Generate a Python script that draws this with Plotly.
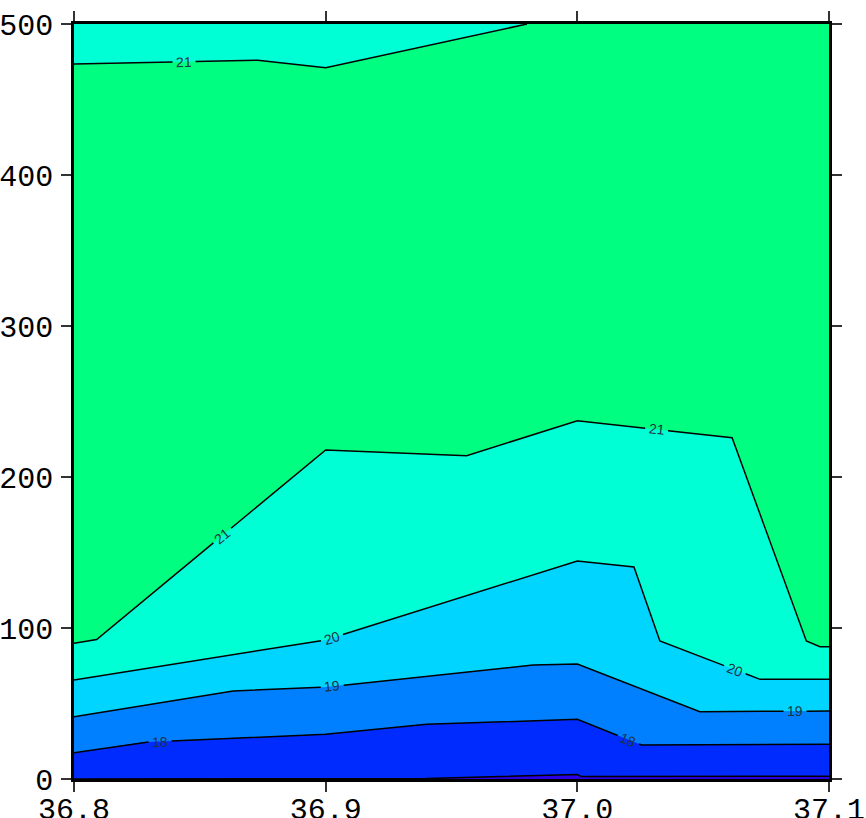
import numpy as np
import plotly.graph_objects as go

# ---- data (longitude, depth in m) ----
c21_top_lon = [36.8, 36.873, 36.9, 36.98]
c21_top_dep = [473.5, 476.0, 471.0, 500.0]

c21_lon = [36.8, 36.809, 36.9, 36.956, 37.0, 37.0615, 37.091, 37.0964, 37.1]
c21_dep = [89.9, 92.4, 217.9, 214.1, 237.3, 226.0, 91.4, 87.6, 87.6]

c20_lon = [36.8, 36.9, 37.0, 37.0225, 37.0328, 37.0726, 37.1]
c20_dep = [65.6, 92.1, 144.4, 140.4, 91.4, 66.0, 66.0]

c19_lon = [36.8, 36.8632, 36.9, 36.9824, 37.0, 37.0487, 37.1]
c19_dep = [41.3, 58.3, 60.9, 75.5, 76.2, 44.6, 45.0]

c18_lon = [36.8, 36.8274, 36.9, 36.9401, 36.9824, 37.0, 37.0256, 37.1]
c18_dep = [17.4, 24.3, 29.6, 36.2, 38.6, 39.5, 22.5, 23.0]

c17_lon = [36.8, 36.94, 37.0, 37.0016, 37.1]
c17_dep = [0.0, 0.3, 3.0, 1.6, 1.9]

# contour labels: (line, longitude of label centre, text)
labels = [
    ("c21_top", 36.8437, "21"),
    ("c21", 36.8589, "21"),
    ("c21", 37.0315, "21"),
    ("c20", 36.9025, "20"),
    ("c20", 37.0626, "20"),
    ("c19", 36.9026, "19"),
    ("c19", 37.0865, "19"),
    ("c18", 36.8342, "18"),
    ("c18", 37.0203, "18"),
]

x_ticks = [36.8, 36.9, 37.0, 37.1]
x_ticktext = ["36.8", "36.9", "37.0", "37.1"]
y_ticks = [0, 100, 200, 300, 400, 500]

# ---- style ----
C_GREEN = "rgb(0,255,128)"
C_AQUA = "rgb(0,255,213)"
C_CYAN = "rgb(0,213,255)"
C_DODGER = "rgb(0,128,255)"
C_BLUE = "rgb(0,43,255)"
C_VIOLET = "rgb(43,0,230)"

W, H = 866, 818
ML, MT = 74, 24
PW, PH = 755, 755
MR, MB = W - ML - PW, H - MT - PH
XR = [36.8, 37.1]
YR = [0, 500]
SX = PW / (XR[1] - XR[0])
SY = PH / (YR[1] - YR[0])

lines = {
    "c21_top": (c21_top_lon, c21_top_dep),
    "c21": (c21_lon, c21_dep),
    "c20": (c20_lon, c20_dep),
    "c19": (c19_lon, c19_dep),
    "c18": (c18_lon, c18_dep),
}

fig = go.Figure()

# filled bands (stacked from the surface colour downwards)
fills = [("c21", C_AQUA), ("c20", C_CYAN), ("c19", C_DODGER), ("c18", C_BLUE)]
for name, col in fills:
    lx, ly = lines[name]
    fig.add_trace(go.Scatter(x=lx, y=ly, mode="lines", line=dict(width=0, color=col),
                             fill="tozeroy", fillcolor=col, hoverinfo="skip"))
fig.add_trace(go.Scatter(x=c17_lon, y=c17_dep, mode="lines", line=dict(width=0, color=C_VIOLET),
                         fill="tozeroy", fillcolor=C_VIOLET, hoverinfo="skip"))

# top band between the upper 21 line and the top of the axis
fig.add_trace(go.Scatter(x=[c21_top_lon[0], c21_top_lon[-1]], y=[YR[1], YR[1]], mode="lines",
                         line=dict(width=0), hoverinfo="skip"))
fig.add_trace(go.Scatter(x=c21_top_lon, y=c21_top_dep, mode="lines", line=dict(width=0),
                         fill="tonexty", fillcolor=C_AQUA, hoverinfo="skip"))


def angle_at(lx, ly, xc):
    i = int(np.clip(np.searchsorted(lx, xc) - 1, 0, len(lx) - 2))
    dx = (lx[i + 1] - lx[i]) * SX
    dy = (ly[i + 1] - ly[i]) * SY
    return np.degrees(np.arctan2(-dy, dx))


gaps = {k: [] for k in lines}
annots = []
for name, xc, txt in labels:
    lx, ly = lines[name]
    ang = angle_at(lx, ly, xc)
    yc = float(np.interp(xc, lx, ly))
    half = 11.5 * abs(np.cos(np.radians(ang))) / SX
    gaps[name].append((xc - half, xc + half))
    annots.append(dict(x=xc, y=yc, xref="x", yref="y", text=txt, showarrow=False,
                       textangle=ang,
                       font=dict(family="Liberation Sans", size=14, color="#1c3344")))

# contour lines, broken where labels sit
for name, (lx, ly) in lines.items():
    g = gaps[name]
    pts = sorted(list(zip(lx, ly))
                 + [(a, float(np.interp(a, lx, ly))) for a, b in g]
                 + [(b, float(np.interp(b, lx, ly))) for a, b in g])
    ends = {a for a, b in g}
    out_x, out_y = [], []
    for px, py in pts:
        if any(a < px < b for a, b in g):
            continue
        out_x.append(px)
        out_y.append(py)
        if px in ends:
            out_x.append(None)
            out_y.append(None)
    fig.add_trace(go.Scatter(x=out_x, y=out_y, mode="lines", line=dict(color="black", width=1.5),
                             hoverinfo="skip", connectgaps=False))

fig.add_trace(go.Scatter(x=c17_lon, y=c17_dep, mode="lines", line=dict(color="black", width=1.5),
                         hoverinfo="skip"))

axis_common = dict(showline=True, linecolor="black", linewidth=2.5, mirror="ticks",
                   ticks="outside", ticklen=10, tickwidth=1.5, tickcolor="#333",
                   showgrid=False, zeroline=False,
                   tickfont=dict(family="'Courier New', 'Liberation Mono', Cousine, monospace",
                                 size=30, color="black"))

fig.update_layout(
    width=W, height=H,
    margin=dict(l=ML, r=MR, t=MT, b=MB, autoexpand=False),
    paper_bgcolor="white", plot_bgcolor=C_GREEN,
    showlegend=False,
    annotations=annots,
    xaxis=dict(range=XR, tickvals=x_ticks, ticktext=x_ticktext, ticklabelstandoff=-9, **axis_common),
    yaxis=dict(range=YR, tickvals=y_ticks, ticklabelstandoff=2, **axis_common),
)

fig.write_html("out.html", config={"displayModeBar": False},
               post_script="document.body.style.margin='0';document.body.style.overflow='hidden';")
